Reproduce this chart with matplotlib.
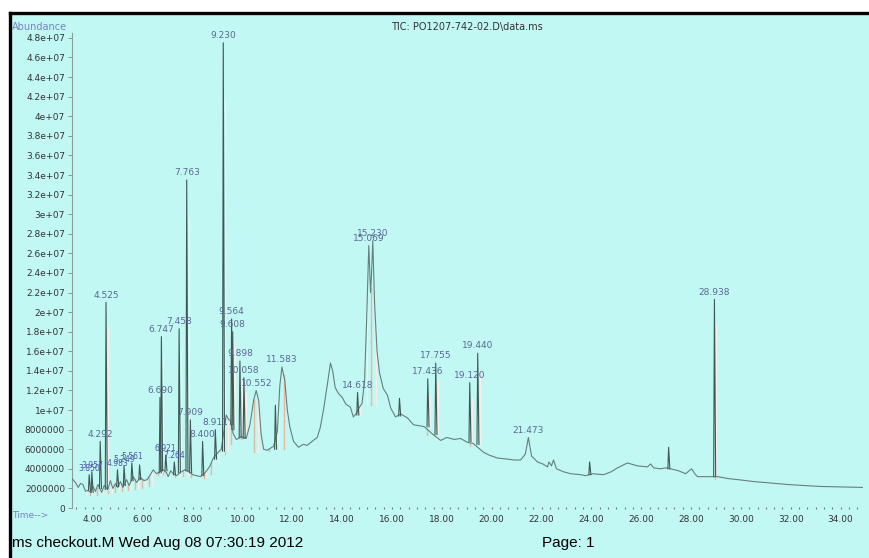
import numpy as np
import matplotlib
matplotlib.use("Agg")
import matplotlib.pyplot as plt
from matplotlib.patches import Rectangle
from matplotlib.lines import Line2D
from matplotlib.ticker import AutoMinorLocator

# TIC trace: time (min), abundance (1e6 counts)
trace_t = [3.16, 3.30, 3.41, 3.50, 3.60, 3.70, 3.80, 3.90, 4.00, 4.10, 4.20, 4.35, 4.45,
           4.60, 4.70, 4.80, 4.90, 5.00, 5.10, 5.20, 5.35, 5.45, 5.62, 5.75, 5.90, 6.05,
           6.18, 6.30, 6.42, 6.55, 6.62, 6.82, 6.95, 7.02, 7.12, 7.22, 7.35, 7.55, 7.68,
           7.85, 8.00, 8.15, 8.31, 8.50, 8.59, 8.70, 8.83, 9.03, 9.15, 9.35, 9.45, 9.51,
           9.63, 9.75, 9.85, 9.95, 10.15, 10.30, 10.45, 10.55, 10.65, 10.75, 10.85, 11.00,
           11.12, 11.25, 11.40, 11.50, 11.583, 11.70, 11.80, 11.90, 12.05, 12.25, 12.44,
           12.60, 12.84, 13.00, 13.12, 13.25, 13.40, 13.53, 13.62, 13.72, 13.85, 14.00,
           14.15, 14.33, 14.45, 14.55, 14.70, 14.80, 14.90, 14.98, 15.069, 15.14, 15.18,
           15.23, 15.30, 15.40, 15.50, 15.65, 15.82, 15.95, 16.14, 16.35, 16.62, 16.86,
           17.10, 17.30, 17.60, 17.95, 18.20, 18.50, 18.75, 19.03, 19.25, 19.67, 19.90,
           20.23, 20.60, 20.90, 21.16, 21.35, 21.473, 21.60, 21.84, 22.05, 22.24, 22.30,
           22.40, 22.48, 22.60, 22.88, 23.17, 23.57, 23.77, 24.05, 24.49, 24.80, 25.05,
           25.45, 25.85, 26.25, 26.38, 26.50, 26.78, 26.98, 27.18, 27.50, 27.78, 28.02,
           28.15, 28.26, 28.66, 29.07, 29.50, 29.87, 30.51, 31.20, 31.88, 32.50, 33.20,
           34.00, 34.90]
trace_y = [3.0, 2.6, 2.1, 2.5, 2.4, 1.7, 1.8, 1.6, 2.2, 1.7, 2.4, 1.6, 2.3,
           1.9, 2.8, 2.0, 2.5, 2.1, 2.7, 2.1, 2.9, 2.3, 3.2, 2.6, 3.1, 2.8,
           2.9, 3.4, 3.9, 3.5, 3.6, 3.9, 3.6, 3.2, 3.8, 3.5, 3.3, 3.7, 3.9,
           3.7, 3.4, 3.3, 3.2, 3.6, 3.9, 4.3, 5.1, 5.7, 6.0, 9.5, 9.0, 9.0,
           7.6, 7.0, 7.1, 7.3, 7.1, 8.5, 11.0, 12.0, 11.0, 7.5, 6.0, 5.9,
           6.1, 6.3, 7.8, 12.5, 14.4, 13.0, 10.0, 8.3, 6.8, 6.2, 6.5,
           6.4, 6.9, 7.2, 8.2, 10.0, 12.5, 14.8, 14.0, 12.3, 11.7, 11.3,
           10.6, 10.3, 9.3, 9.6, 10.3, 10.7, 13.0, 19.0, 26.8, 22.0, 24.0,
           27.3, 21.0, 16.0, 13.8, 12.2, 11.5, 10.2, 9.3, 9.6, 9.2, 8.5,
           8.4, 8.3, 7.6, 6.9, 7.2, 7.0, 7.1, 6.7, 6.6, 5.7, 5.4,
           5.1, 5.0, 4.9, 4.9, 5.5, 7.2, 5.3, 4.7, 4.5, 4.2, 4.7,
           4.3, 4.9, 4.0, 3.7, 3.5, 3.4, 3.3, 3.5, 3.4, 3.7, 4.1,
           4.6, 4.3, 4.2, 4.5, 4.1, 4.0, 4.1, 4.0, 3.8, 3.5, 4.0,
           3.5, 3.2, 3.2, 3.2, 3.0, 2.9, 2.7, 2.55, 2.4, 2.3, 2.2,
           2.15, 2.1]

# sharp peaks: retention time, apex, foot level (1e6) and the printed label
spike_rt = [3.850, 3.957, 4.292, 4.525, 4.983, 5.249, 5.561, 5.872, 6.690, 6.747, 6.921,
            7.264, 7.458, 7.763, 7.909, 8.400, 8.911, 9.230, 9.564, 9.608, 9.898, 10.058,
            11.320, 14.618, 16.300, 17.436, 17.755, 19.120, 19.440, 23.930, 27.100, 28.938]
spike_top = [3.4, 3.7, 6.8, 21.0, 3.9, 4.3, 4.6, 4.4, 11.3, 17.5, 5.4,
             4.7, 18.3, 33.5, 9.0, 6.8, 8.0, 47.5, 19.3, 18.0, 15.0, 13.3,
             10.5, 11.8, 11.2, 13.2, 14.8, 12.8, 15.8, 4.7, 6.2, 21.3]
spike_base = [1.8, 1.6, 2.0, 1.9, 2.2, 2.3, 2.8, 2.9, 3.6, 3.8, 3.8,
              3.4, 3.6, 3.8, 3.6, 3.3, 5.0, 5.8, 8.5, 8.0, 7.2, 7.1,
              6.0, 9.5, 9.4, 8.3, 7.5, 6.8, 6.5, 3.4, 4.0, 3.2]
spike_lab = ["3.850", "3.957", "4.292", "4.525", "4.983", "5.249", "5.561", "", "6.690",
             "6.747", "6.921", "7.264", "7.458", "7.763", "7.909", "8.400", "8.911", "9.230",
             "9.564", "9.608", "9.898", "10.058", "", "14.618", "", "17.436", "17.755",
             "19.120", "19.440", "", "", "28.938"]

# labelled broad peaks that are part of the trace itself
broad_rt = [10.552, 11.583, 15.069, 15.230, 21.473]
broad_top = [12.0, 14.4, 26.8, 27.3, 7.2]
broad_lab = ["10.552", "11.583", "15.069", "15.230", "21.473"]

# integration drop lines: time and lower end (1e6)
drop_t = [3.72, 3.88, 4.02, 4.15, 4.38, 4.62, 4.75, 4.88, 5.05, 5.15, 5.30, 5.40, 5.52,
          5.68, 5.80, 5.95, 6.10, 6.25, 6.38, 6.60, 6.72, 6.80, 7.05, 7.30, 7.50, 7.60,
          7.80, 7.95, 8.25, 8.45, 8.55, 8.75, 9.05, 9.28, 9.40, 9.55, 9.70, 9.95, 10.10,
          10.45, 10.62, 11.05, 11.45, 11.65, 15.00, 15.15, 15.35, 17.42, 17.78, 19.14,
          19.47, 28.96]
drop_lo = [1.4, 1.3, 1.4, 1.3, 1.4, 1.5, 1.5, 1.6, 1.6, 1.7, 1.7, 1.8, 1.8,
           1.9, 2.0, 2.0, 2.1, 2.2, 2.3, 3.4, 3.5, 3.5, 3.1, 3.2, 3.2, 3.3,
           3.3, 3.2, 3.1, 3.1, 3.2, 3.5, 4.5, 5.5, 5.8, 6.5, 6.8, 7.0, 7.0,
           5.7, 5.7, 5.8, 6.0, 6.0, 10.5, 10.5, 10.5, 7.5, 7.0, 6.3,
           6.2, 3.0]

yticks = np.arange(0, 48.1, 2)
ytick_labels = ["0", "2000000", "4000000", "6000000", "8000000", "1e+07", "1.2e+07",
                "1.4e+07", "1.6e+07", "1.8e+07", "2e+07", "2.2e+07", "2.4e+07", "2.6e+07",
                "2.8e+07", "3e+07", "3.2e+07", "3.4e+07", "3.6e+07", "3.8e+07", "4e+07",
                "4.2e+07", "4.4e+07", "4.6e+07", "4.8e+07"]
xticks = np.arange(4, 35, 2)

W, H = 870, 558
bg = "#c1f8f4"
trace_col = "#66807c"
spike_col = "#3f5855"
lab_col = "#5b6894"
drop_cols = ["#f4efe6", "#e0b8a6"]

fig = plt.figure(figsize=(W / 100, H / 100), dpi=100)
fig.patch.set_facecolor("white")
fig.patches.append(Rectangle((10 / W, 0), 1, 1 - 13 / H, transform=fig.transFigure,
                             facecolor=bg, edgecolor="none", zorder=-5))
fig.lines.append(Line2D([10 / W, 10 / W], [0, 1 - 13 / H], transform=fig.transFigure,
                        color="black", lw=2.4))
fig.lines.append(Line2D([10 / W, 1], [1 - 13 / H, 1 - 13 / H], transform=fig.transFigure,
                        color="black", lw=2.4))

# axes box: y=0 at 508 px, top of the y axis at 33 px
ax = fig.add_axes([72 / W, 50 / H, 791 / W, 475 / H])
ax.set_facecolor("none")
ax.set_xlim(3.16, 34.9)
ax.set_ylim(0, 48.5)

# drop lines sit under the trace, from the integration baseline up to the signal
drop_hi = np.interp(drop_t, trace_t, trace_y)
for i, (t, lo, hi) in enumerate(zip(drop_t, drop_lo, drop_hi)):
    ax.plot([t, t], [lo, hi], color=drop_cols[i % 2], lw=1.0, zorder=1)

ax.plot(trace_t, trace_y, color=trace_col, lw=0.8, zorder=3)
for rt, top, base in zip(spike_rt, spike_top, spike_base):
    if top > 10:
        ax.plot([rt + 0.08, rt + 0.08], [base, 0.88 * top], color="#f3f1ea", lw=0.9, zorder=2)
    ax.plot([rt - 0.03, rt, rt + 0.05], [base, top, base], color=spike_col, lw=0.8, zorder=3)

# the crowded little peaks before 7.5 min get a smaller, darker label, as printed
for rt, top, lab in zip(spike_rt + broad_rt, spike_top + broad_top, spike_lab + broad_lab):
    if not lab:
        continue
    small = top < 6
    ax.annotate(lab, (rt, top), xytext=(0, 1.5 if small else 2), textcoords="offset points",
                ha="center", va="bottom", fontsize=5.5 if small else 6.5,
                color="#4c5aa0" if small else lab_col, zorder=4)

for s in ["top", "right", "bottom"]:
    ax.spines[s].set_visible(False)
ax.spines["left"].set_color("#8c9c9a")
ax.spines["left"].set_linewidth(0.8)

ax.set_yticks(yticks)
ax.set_yticklabels(ytick_labels)
ax.set_xticks(xticks)
ax.set_xticklabels(["%.2f" % v for v in xticks])
ax.xaxis.set_minor_locator(AutoMinorLocator(6))
ax.tick_params(axis="y", length=3, width=0.6, color="#7a8a88", labelsize=6.5,
               labelcolor="#333333", pad=2)
ax.tick_params(axis="x", which="both", length=2, width=0.8, direction="inout",
               color="#6a7a78", labelsize=6.5, labelcolor="#333333", pad=4)

fig.text(467 / W, 1 - 27 / H, "TIC: PO1207-742-02.D\\data.ms", ha="center", va="center",
         fontsize=7, color="#333333")
fig.text(12 / W, 1 - 27 / H, "Abundance", ha="left", va="center", fontsize=7, color="#7884bf")
fig.text(12 / W, 1 - 516 / H, "Time-->", ha="left", va="center", fontsize=6.5, color="#7884bf")
fig.text(12 / W, 1 - 543 / H, "ms checkout.M Wed Aug 08 07:30:19 2012", ha="left",
         va="center", fontsize=11, family="Liberation Sans", color="black")
fig.text(542 / W, 1 - 543 / H, "Page: 1", ha="left", va="center", fontsize=11,
         family="Liberation Sans", color="black")

fig.savefig("out.png", dpi=100, facecolor=fig.get_facecolor())
